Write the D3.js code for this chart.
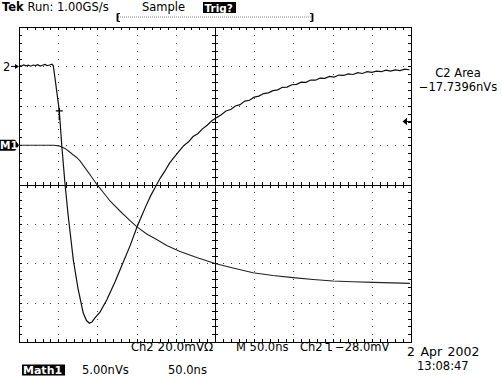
<!DOCTYPE html>
<html><head><meta charset="utf-8">
<script src="https://cdn.jsdelivr.net/npm/d3@7"></script>
<style>
html,body{margin:0;padding:0;background:#fff;}
svg{display:block;background:#fff;}
text{font-family:"DejaVu Sans",Verdana,sans-serif;fill:#000;}
</style></head><body>
<svg id="c" width="502" height="377"></svg>
<script>
// ---- data (time in ns, Ch2 in mV, Math1 in nVs) ----
const ch2Time = [0,3,6,9,12,15,18,21,24,27,30,33,36,39,42,
  43.7,46.8,51.4,54.5,58.7,62.9,69.3,75.6,82.0,86.1,89.7,93.1,96.9,103.3,111.9,122.4,128.8,141.6,150.5,
  156,162,168,174,180,186,192,198,204,210,216,222,228,234,240,246,252,258,264,270,276,282,288,294,
  300,306,312,318,324,330,336,342,348,354,360,366,372,378,384,390,396,402,408,414,420,426,432,438,
  444,450,456,462,468,474,480,486,492,498];
const ch2Values = [0.5,0.2,0.8,0.3,0.6,0.1,0.7,0.4,0.9,0.2,0.6,1.0,0.4,0.7,1.1,
  0.4,-8.6,-22.6,-39.9,-59.7,-76.3,-98.3,-113.5,-125.3,-129.0,-130.4,-129.7,-127.7,-124.7,-118.6,-109.4,-103.3,-91.1,-81.5,
  -76.3,-70.8,-65.6,-61.2,-56.8,-53.2,-49.1,-46.0,-43.1,-40.2,-38.4,-35.6,-34.2,-31.7,-29.9,-27.6,-26.0,-24.5,-22.6,-21.9,-20.1,-19.4,-17.6,-17.2,
  -15.6,-15.1,-13.8,-13.4,-12.3,-11.9,-10.6,-10.5,-9.3,-9.1,-8.0,-8.1,-6.9,-7.0,-6.0,-6.1,-5.1,-5.4,-4.4,-4.6,-3.8,-4.1,-3.2,-3.6,
  -2.7,-3.0,-2.4,-2.7,-1.9,-2.4,-1.8,-2.1,-1.4,-1.7];
const mathTime = [0,44,51,55,58.7,63.8,68.9,73.6,77.8,86.4,91.8,99.1,107.1,116.1,128.8,141.6,150.1,162.9,175.6,188.4,
  205.4,226.7,250,273,298.5,324,349.5,375,400.5,426,451.5,477,498.7];
const mathValues = [0,0,-0.08,-0.25,-0.41,-0.80,-1.21,-1.56,-2.0,-3.17,-3.91,-4.95,-5.94,-7.08,-8.35,-9.56,-10.34,-11.27,-11.97,-12.73,
  -13.49,-14.25,-15.01,-15.58,-16.19,-16.54,-16.81,-17.04,-17.23,-17.33,-17.41,-17.47,-17.53];

const timeDomain = [0, 500];     // 50 ns/div x 10
const ch2Domain = [-140, 20];    // 20 mV/div x 8
const mathDomain = [-25, 15];    // 5 nVs/div x 8
const triggerLevel = -28;        // mV
const triggerTime = 51.4;        // ns
const triggerMarkLevel = -22.6;  // mV

const headerBold = "Tek";
const headerRest = " Run: 1.00GS/s";
const acqMode = "Sample";
const trigState = "Trig?";
const measLabel = "C2 Area";
const measValue = "\u221217.7396nVs";
const row1 = [["Ch2",131,11.5],["20.0mV\u03A9",157.5,12],["M 50.0ns",236,11.5],["Ch2",300,11.5],["\u221228.0mV",335,11.5]];
const row2 = [["5.00nVs",82],["50.0ns",168]];
const dateText = "2 Apr 2002";
const timeText = "13:08:47";

// ---- drawing ----
const svg = d3.select("#c");
const L = 19, R = 411, T = 27, B = 342.2;
const x = d3.scaleLinear().domain(timeDomain).range([L, R]);
const yC = d3.scaleLinear().domain(ch2Domain).range([B, T]);
const yM = d3.scaleLinear().domain(mathDomain).range([B, T]);
const xd = d3.scaleLinear().domain([0, 10]).range([L, R]);
const yd = d3.scaleLinear().domain([0, 8]).range([T, B]);
const minX = d3.range(0, 51).map(i => i / 5);
const minY = d3.range(0, 41).map(i => i / 5);

// dotted graticule
const dots = [];
[1,2,3,4,6,7,8,9].forEach(i => minY.forEach(v => { if (v > 0 && v < 8) dots.push([xd(i), yd(v)]); }));
[1,2,3,5,6,7].forEach(j => minX.forEach(v => { if (v > 0 && v < 10) dots.push([xd(v), yd(j)]); }));
svg.append("g").selectAll("rect").data(dots).join("rect")
  .attr("x", d => Math.round(d[0])).attr("y", d => Math.round(d[1]))
  .attr("width", 1).attr("height", 1).attr("fill", "#444");

function axis(gen, tr, vals) {
  const g = svg.append("g").attr("transform", tr)
    .call(gen.tickValues(vals).tickFormat("").tickSizeOuter(0));
  g.selectAll("path,line").attr("stroke", "#000").attr("shape-rendering", "crispEdges");
  return g;
}
// frame with inward ticks
axis(d3.axisTop(xd).tickSize(-3), `translate(0,${T})`, minX);
axis(d3.axisBottom(xd).tickSize(-3), `translate(0,${B})`, minX);
axis(d3.axisLeft(yd).tickSize(-3), `translate(${L},0)`, minY);
axis(d3.axisRight(yd).tickSize(-3), `translate(${R},0)`, minY);
// center cross
axis(d3.axisTop(xd).tickSize(3), `translate(0,${yd(4)})`, minX);
axis(d3.axisBottom(xd).tickSize(3), `translate(0,${yd(4)})`, minX);
axis(d3.axisLeft(yd).tickSize(3), `translate(${xd(5)},0)`, minY);
axis(d3.axisRight(yd).tickSize(3), `translate(${xd(5)},0)`, minY);

// traces
const ch2 = ch2Time.map((t, i) => [t, ch2Values[i]]);
const m1 = mathTime.map((t, i) => [t, mathValues[i]]);
svg.append("path").datum(m1).attr("fill", "none").attr("stroke", "#222").attr("stroke-width", 1.1)
  .attr("d", d3.line().x(d => x(d[0])).y(d => yM(d[1])));
svg.append("path").datum(ch2).attr("fill", "none").attr("stroke", "#111").attr("stroke-width", 1.2)
  .attr("d", d3.line().x(d => x(d[0])).y(d => yC(d[1])));

// trigger mark on trace
const tx = x(triggerTime), ty = yC(triggerMarkLevel);
svg.append("path").attr("stroke", "#000").attr("stroke-width", 1.4).attr("fill", "none")
  .attr("d", `M${tx-3.5},${ty}H${tx+3.5}M${tx},${ty-3}V${ty+9}`);

// ch2 ground marker
const g0 = yC(0);
svg.append("text").attr("x", 3).attr("y", g0 + 4.5).attr("font-size", 11.5).text("2");
svg.append("path").attr("stroke", "#000").attr("fill", "none").attr("d", `M11,${g0}H18`);
svg.append("path").attr("fill", "#000").attr("d", `M19,${g0}L15,${g0-2.5}L15,${g0+2.5}Z`);

// M1 marker
const m0 = yM(0);
svg.append("path").attr("fill", "#000").attr("d", `M0,${m0-5.5}H15L19,${m0}L15,${m0+5.5}H0Z`);
svg.append("text").attr("x", 0).attr("y", m0 + 4).attr("font-size", 10.5).attr("font-weight", "bold")
  .style("fill", "#fff").text("M1");

// trigger level arrow (right)
const tl = yC(triggerLevel);
svg.append("path").attr("fill", "#000").attr("d", `M402.5,${tl}L407,${tl-3.8}L407,${tl+3.8}Z`);
svg.append("path").attr("stroke", "#000").attr("d", `M407,${tl}H${R}`);

// header
const h = svg.append("text").attr("x", 2).attr("y", 11).attr("font-size", 11.5);
h.append("tspan").attr("font-weight", "bold").text(headerBold);
h.append("tspan").text(headerRest);
svg.append("text").attr("x", 142).attr("y", 11).attr("font-size", 11.5).text(acqMode);
svg.append("rect").attr("x", 203).attr("y", 2).attr("width", 33).attr("height", 11).attr("fill", "#000");
svg.append("text").attr("x", 204.5).attr("y", 11.5).attr("font-size", 10.5).attr("font-weight", "bold")
  .style("fill", "#fff").text(trigState);
// record bracket
svg.append("path").attr("stroke", "#888").attr("stroke-dasharray", "1,1").attr("d", "M118,17H313");
svg.append("path").attr("stroke", "#000").attr("stroke-width", 1.8).attr("fill", "none")
  .attr("d", "M117.5,13.5V21.5M312.5,13.5V21.5");
svg.append("path").attr("stroke", "#000").attr("fill", "none")
  .attr("d", "M117.5,13.5H120M117.5,21.5H120M312.5,13.5H310M312.5,21.5H310");

// measurement
svg.append("text").attr("x", 458).attr("y", 77).attr("text-anchor", "middle").attr("font-size", 11.5).text(measLabel);
svg.append("text").attr("x", 458).attr("y", 90.5).attr("text-anchor", "middle").attr("font-size", 11.5).text(measValue);

// bottom readouts
svg.selectAll(".r1").data(row1).join("text").attr("class", "r1")
  .attr("x", d => d[1]).attr("y", 351).attr("font-size", d => d[2]).text(d => d[0]);
svg.append("path").attr("stroke", "#000").attr("fill", "none").attr("stroke-width", 1.2)
  .attr("d", "M325.5,343.5H329V350.5H332");
svg.selectAll(".r2").data(row2).join("text").attr("class", "r2")
  .attr("x", d => d[1]).attr("y", 374).attr("font-size", 11.5).text(d => d[0]);
svg.append("rect").attr("x", 22).attr("y", 364.5).attr("width", 43).attr("height", 11).attr("fill", "#000");
svg.append("text").attr("x", 23).attr("y", 374).attr("font-size", 11).attr("font-weight", "bold")
  .style("fill", "#fff").text("Math1");
svg.append("text").attr("x", 407).attr("y", 356).attr("font-size", 12.5)
  .attr("word-spacing", 1.5).text(dateText);
svg.append("text").attr("x", 417).attr("y", 369.5).attr("font-size", 11.5).text(timeText);
</script>
</body></html>
